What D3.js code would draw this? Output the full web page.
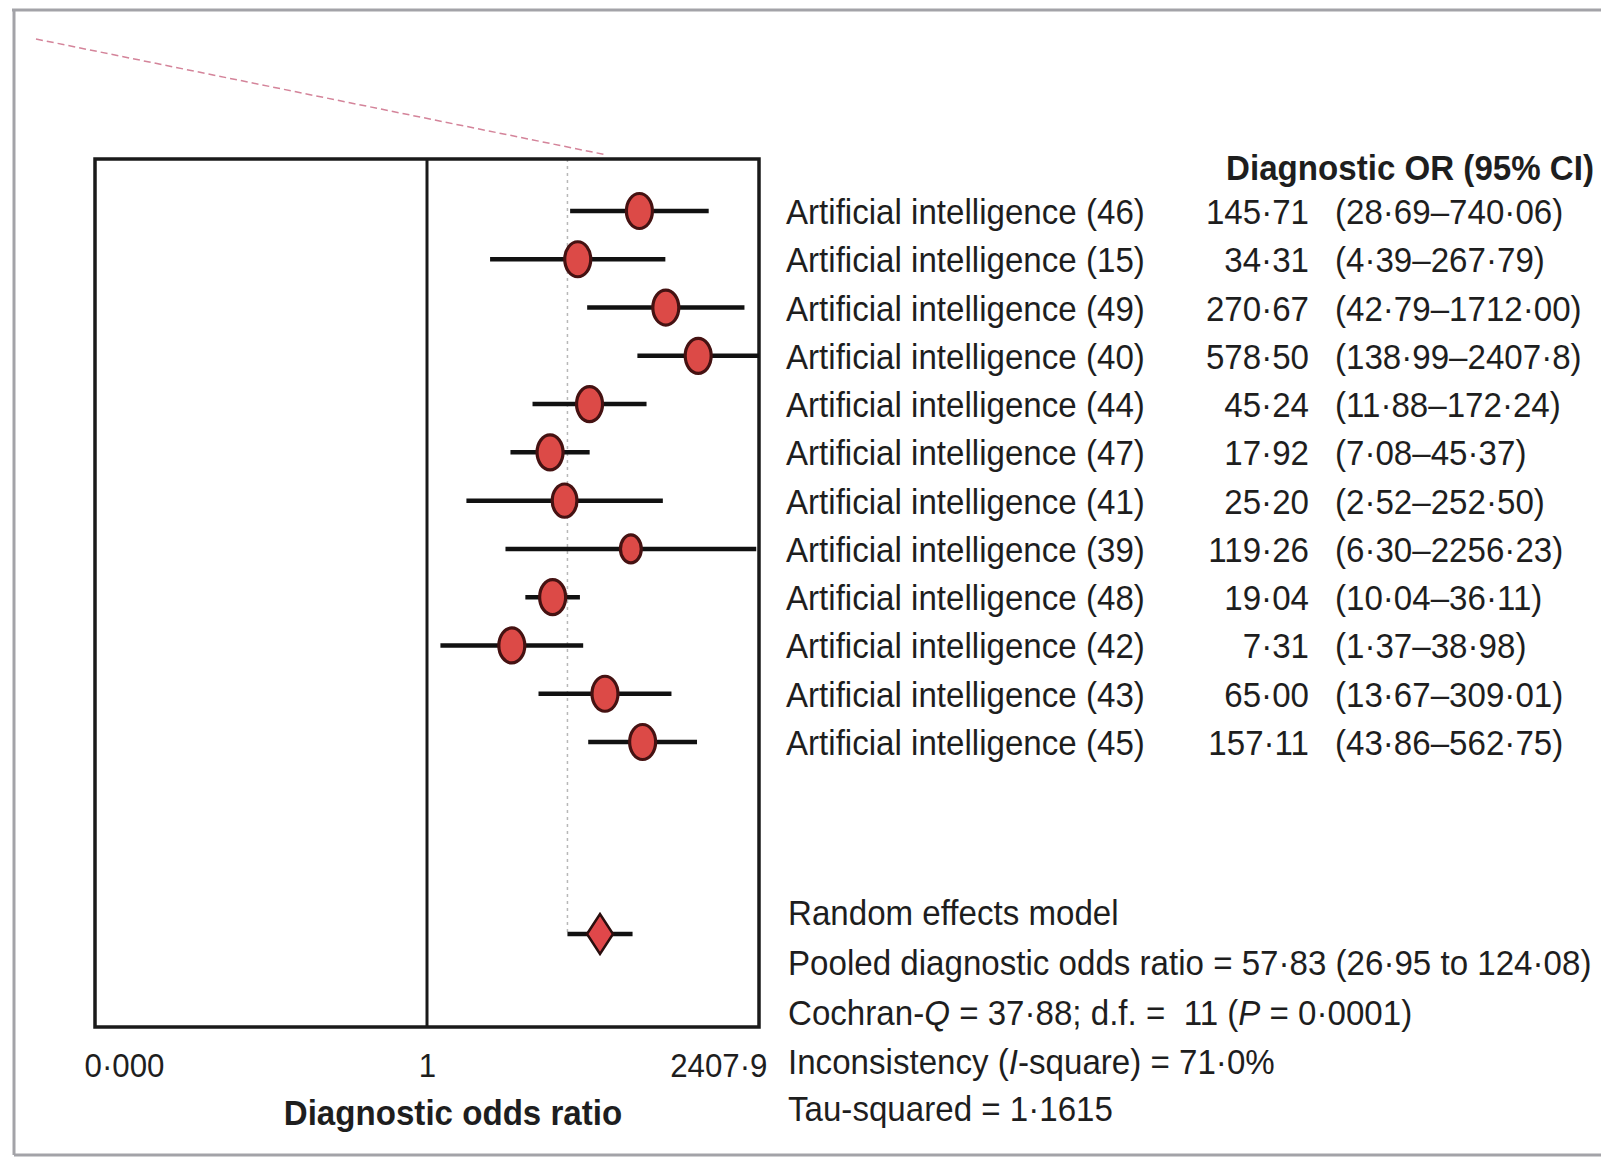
<!DOCTYPE html>
<html>
<head>
<meta charset="utf-8">
<script src="https://cdn.jsdelivr.net/npm/d3@7"></script>
<style>
  html, body { margin: 0; padding: 0; background: #fff; }
  svg { display: block; }
  text { font-family: "Liberation Sans Narrow", "Arial Narrow", "Liberation Sans", Arial, sans-serif; fill: #1e1e1e; }
</style>
</head>
<body>
<svg id="chart" width="1601" height="1163"></svg>
<script>
// ---- data ----
const studies = [
  "Artificial intelligence (46)", "Artificial intelligence (15)", "Artificial intelligence (49)",
  "Artificial intelligence (40)", "Artificial intelligence (44)", "Artificial intelligence (47)",
  "Artificial intelligence (41)", "Artificial intelligence (39)", "Artificial intelligence (48)",
  "Artificial intelligence (42)", "Artificial intelligence (43)", "Artificial intelligence (45)"
];
const orValues = [145.71, 34.31, 270.67, 578.50, 45.24, 17.92, 25.20, 119.26, 19.04, 7.31, 65.00, 157.11];
const ciLower  = [28.69, 4.39, 42.79, 138.99, 11.88, 7.08, 2.52, 6.30, 10.04, 1.37, 13.67, 43.86];
const ciUpper  = [740.06, 267.79, 1712.00, 2407.8, 172.24, 45.37, 252.50, 2256.23, 36.11, 38.98, 309.01, 562.75];
const studyWeights = [1, 1, 1, 1, 1, 1, 0.95, 0.8, 1, 1, 1, 1];
const orLabels = ["145·71", "34·31", "270·67", "578·50", "45·24", "17·92", "25·20", "119·26", "19·04", "7·31", "65·00", "157·11"];
const ciLabels = ["(28·69–740·06)", "(4·39–267·79)", "(42·79–1712·00)", "(138·99–2407·8)", "(11·88–172·24)",
  "(7·08–45·37)", "(2·52–252·50)", "(6·30–2256·23)", "(10·04–36·11)", "(1·37–38·98)", "(13·67–309·01)", "(43·86–562·75)"];
const pooled = { or: 57.83, lower: 26.95, upper: 124.08 };
const axisMax = 2407.9;
const tickValues = [1 / axisMax, 1, axisMax];
const tickLabels = ["0·000", "1", "2407·9"];
const headerText = "Diagnostic OR (95% CI)";
const axisTitle = "Diagnostic odds ratio";

// ---- layout ----
const svg = d3.select("#chart");
const box = { left: 95, right: 759, top: 159, bottom: 1027 };
const x = d3.scaleLog().domain([1 / axisMax, axisMax]).range([box.left, box.right]);
const y = d3.scalePoint().domain(d3.range(studies.length)).range([211, 742]);
const pooledY = 934;
const fontSize = 36;
const condense = 0.92;

// outer grey frame
const frame = svg.append("g").attr("stroke", "#a3a3a8").attr("stroke-width", 3).attr("fill", "none");
frame.append("line").attr("x1", 12).attr("x2", 1601).attr("y1", 10).attr("y2", 10);
frame.append("line").attr("x1", 14).attr("x2", 14).attr("y1", 10).attr("y2", 1155);
frame.append("line").attr("x1", 14).attr("x2", 1601).attr("y1", 1155).attr("y2", 1155);

// pink dashed line
svg.append("line").attr("x1", 36).attr("y1", 39).attr("x2", 607).attr("y2", 155)
  .attr("stroke", "#d4849a").attr("stroke-width", 1.5).attr("stroke-dasharray", "7,4");

// dotted reference line
svg.append("line")
  .attr("x1", x(pooled.lower)).attr("x2", x(pooled.lower))
  .attr("y1", box.top).attr("y2", pooledY)
  .attr("stroke", "#b8b8b8").attr("stroke-width", 1.5).attr("stroke-dasharray", "3,4");

// plot box
svg.append("rect")
  .attr("x", box.left).attr("y", box.top)
  .attr("width", box.right - box.left).attr("height", box.bottom - box.top)
  .attr("fill", "none").attr("stroke", "#1a1a1a").attr("stroke-width", 3.5);

// line of no effect
svg.append("line").attr("x1", x(1)).attr("x2", x(1)).attr("y1", box.top).attr("y2", box.bottom)
  .attr("stroke", "#1a1a1a").attr("stroke-width", 3);

// CI lines
const clip = v => Math.min(Math.max(v, 1 / axisMax), axisMax);
svg.append("g").selectAll("line").data(studies).join("line")
  .attr("x1", (d, i) => x(clip(ciLower[i])))
  .attr("x2", (d, i) => x(clip(ciUpper[i])))
  .attr("y1", (d, i) => y(i)).attr("y2", (d, i) => y(i))
  .attr("stroke", "#111").attr("stroke-width", 4.5);

// point markers
svg.append("g").selectAll("ellipse").data(studies).join("ellipse")
  .attr("cx", (d, i) => x(orValues[i]))
  .attr("cy", (d, i) => y(i))
  .attr("rx", (d, i) => 13 * studyWeights[i])
  .attr("ry", (d, i) => 17.5 * studyWeights[i])
  .attr("fill", "#dc4a47").attr("stroke", "#451212").attr("stroke-width", 3.2);

// pooled estimate
svg.append("line").attr("x1", x(pooled.lower)).attr("x2", x(pooled.upper))
  .attr("y1", pooledY).attr("y2", pooledY).attr("stroke", "#111").attr("stroke-width", 4.5);
const px = x(pooled.or);
svg.append("path")
  .attr("d", `M${px - 13},${pooledY} L${px},${pooledY - 20} L${px + 13},${pooledY} L${px},${pooledY + 20} Z`)
  .attr("fill", "#e0474a").attr("stroke", "#2a0e0e").attr("stroke-width", 2.5);

// axis (tick labels only)
const axis = d3.axisBottom(x).tickValues(tickValues).tickSize(0)
  .tickFormat((d, i) => tickLabels[i]);
const gAxis = svg.append("g").attr("transform", `translate(0,${box.bottom})`).call(axis);
gAxis.select(".domain").remove();
gAxis.selectAll("text")
  .attr("font-size", 34).attr("font-family", null).attr("fill", null)
  .attr("dy", null).attr("y", 50)
  .attr("text-anchor", (d, i) => i === 0 ? "start" : i === 2 ? "end" : "middle")
  .attr("x", (d, i) => i === 0 ? -11 : i === 2 ? 8 : 0);
gAxis.attr("font-family", null).attr("font-size", null);

svg.append("text")
  .attr("x", 453).attr("y", 1125).attr("text-anchor", "middle")
  .attr("font-size", fontSize).attr("font-weight", "bold").text(axisTitle);

// header
svg.append("text")
  .attr("x", 1594).attr("y", 180).attr("text-anchor", "end")
  .attr("font-size", fontSize).attr("font-weight", "bold").text(headerText);

// study labels & values
const rows = svg.append("g");
rows.selectAll("text.lab").data(studies).join("text")
  .attr("class", "lab").attr("font-size", fontSize)
  .attr("x", 786).attr("y", (d, i) => y(i) + 13).text(d => d);
rows.selectAll("text.orv").data(orLabels).join("text")
  .attr("class", "orv").attr("font-size", fontSize).attr("text-anchor", "end")
  .attr("x", 1309).attr("y", (d, i) => y(i) + 13).text(d => d);
rows.selectAll("text.ci").data(ciLabels).join("text")
  .attr("class", "ci").attr("font-size", fontSize)
  .attr("x", 1335).attr("y", (d, i) => y(i) + 13).text(d => d);

// statistics block
const statY = [925, 975, 1025, 1074, 1121];
const stats = svg.append("g").attr("font-size", fontSize);
stats.append("text").attr("x", 788).attr("y", statY[0]).text("Random effects model");
stats.append("text").attr("x", 788).attr("y", statY[1])
  .text("Pooled diagnostic odds ratio = 57·83 (26·95 to 124·08)");
const t3 = stats.append("text").attr("x", 788).attr("y", statY[2]).attr("xml:space", "preserve");
t3.append("tspan").text("Cochran-");
t3.append("tspan").attr("font-style", "italic").text("Q");
t3.append("tspan").text(" = 37·88; d.f. =  11 (");
t3.append("tspan").attr("font-style", "italic").text("P");
t3.append("tspan").text(" = 0·0001)");
const t4 = stats.append("text").attr("x", 788).attr("y", statY[3]);
t4.append("tspan").text("Inconsistency (");
t4.append("tspan").attr("font-style", "italic").text("I");
t4.append("tspan").text("-square) = 71·0%");
stats.append("text").attr("x", 788).attr("y", statY[4]).text("Tau-squared = 1·1615");

// condense all text horizontally around its anchor x (narrow typeface look)
svg.selectAll("text").each(function () {
  const ax = +this.getAttribute("x") || 0;
  d3.select(this).attr("transform", `translate(${ax},0) scale(${condense},1) translate(${-ax},0)`);
});
</script>
</body>
</html>
